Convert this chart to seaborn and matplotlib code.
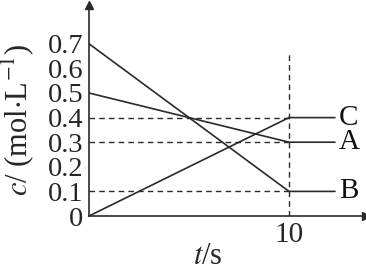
import matplotlib
matplotlib.use("Agg")
import matplotlib.pyplot as plt
import seaborn as sns
import pandas as pd
import numpy as np

# data
times = [0, 10, 12.3]
conc_A = [0.5, 0.3, 0.3]
conc_B = [0.7, 0.1, 0.1]
conc_C = [0.0, 0.4, 0.4]
series_names = ["A", "B", "C"]
guide_levels = [0.4, 0.3, 0.1]
yticks = [0, 0.1, 0.2, 0.3, 0.4, 0.5, 0.6, 0.7]
ytick_labels = ["0", "0.1", "0.2", "0.3", "0.4", "0.5", "0.6", "0.7"]
xticks = [10]
xtick_labels = ["10"]

sns.set_style("white")
plt.rcParams["font.family"] = ["Liberation Serif", "DejaVu Serif"]
plt.rcParams["mathtext.fontset"] = "stix"

df = pd.DataFrame({
    "t": times * 3,
    "c": conc_A + conc_B + conc_C,
    "s": [n for n in series_names for _ in times],
})

fig = plt.figure(figsize=(3.66, 2.72), dpi=100)
W, H = 366, 272
x0, y0 = 89, 216
x1, y1 = 366, 5
ax = fig.add_axes([x0 / W, 1 - y0 / H, (x1 - x0) / W, (y0 - y1) / H])

xmax = (x1 - x0) / 200.0 * 10
ymax = (y0 - y1) / 246.0
ax.set_xlim(0, xmax)
ax.set_ylim(0, ymax)

col = "#2a2a2a"
sns.lineplot(data=df, x="t", y="c", units="s", estimator=None, color=col,
             linewidth=1.2, ax=ax, legend=False)

for lv in guide_levels:
    ax.plot([0, 10], [lv, lv], color=col, lw=1.0, ls=(0, (4, 3)))
ax.plot([10, 10], [0, 0.66], color=col, lw=1.0, ls=(0, (4, 3)))

for name, vals in zip(series_names, [conc_A, conc_B, conc_C]):
    ax.text(times[-1] + 0.2, vals[-1], name, fontsize=21, va="center",
            ha="left", color="#111")

for s in ["top", "right"]:
    ax.spines[s].set_visible(False)
for s in ["left", "bottom"]:
    ax.spines[s].set_color(col)
    ax.spines[s].set_linewidth(1.2)
ax.plot(1, 0, ">", transform=ax.transAxes, color=col, ms=6, clip_on=False)
ax.plot(0, 1, "^", transform=ax.transAxes, color=col, ms=6, clip_on=False)

ax.set_yticks(yticks)
ax.set_yticklabels(ytick_labels, fontsize=20.5)
ax.set_xticks(xticks)
ax.set_xticklabels(xtick_labels, fontsize=21)
ax.tick_params(axis="y", direction="in", length=3, width=1, color=col, pad=4)
ax.tick_params(axis="x", direction="in", length=3, width=1, color=col, pad=4)
ax.set_xlabel("")
ax.set_ylabel("")

fig.text(208 / W, 1 - 257 / H, r"$t$/s", fontsize=22, ha="center", va="center")
fig.text(18 / W, 1 - 120 / H, r"$c$/ (mol$\cdot$L$^{-1}$)", fontsize=22,
         ha="center", va="center", rotation=90)

fig.savefig("out.png", dpi=100)
